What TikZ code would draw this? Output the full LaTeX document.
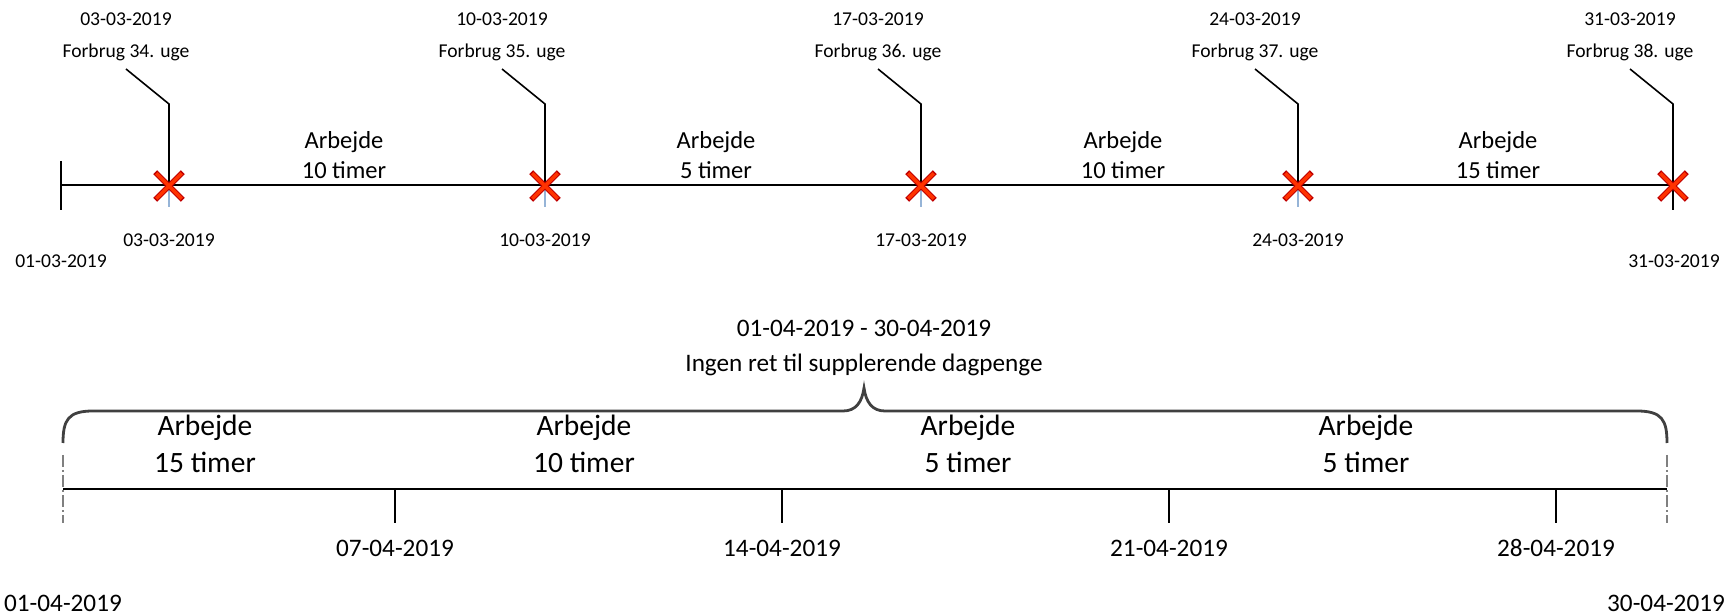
\documentclass[tikz,border=0pt]{standalone}
\usepackage{fontspec}
\setmainfont{Carlito}
\usetikzlibrary{shapes.misc}

\definecolor{markred}{RGB}{255,51,0}
\definecolor{markdark}{RGB}{192,0,0}
\definecolor{bracegray}{RGB}{64,64,64}
\definecolor{ticklight}{RGB}{150,180,215}

\begin{document}
\begin{tikzpicture}[x=0.5pt, y=-0.5pt,
	every node/.style={inner sep=0pt, align=center},
	smalltxt/.style={font=\fontsize{9.8}{16}\selectfont},
	worktxt/.style={font=\fontsize{12.25}{15}\selectfont},
	bigtxt/.style={font=\fontsize{14.75}{18.5}\selectfont},
	datetxt/.style={font=\fontsize{12.6}{17.5}\selectfont},
	xouter/.style={cross out, draw=markdark, line width=2.8pt, minimum size=11pt},
	xinner/.style={cross out, draw=markred, line width=1.7pt, minimum size=11pt},
	axis/.style={draw=black, line width=0.8pt},
	lightick/.style={draw=ticklight, line width=0.8pt},
	brace/.style={draw=bracegray, line width=1.4pt},
	endline/.style={draw=gray, line width=0.8pt, dash pattern=on 6pt off 1.5pt on 1pt off 1.5pt}]
			\useasboundingbox (0,0) rectangle (1724,614);
			
			% march timeline
			\coordinate (s0) at (61,185);
			\coordinate (s0t) at (61,161);
			\coordinate (s0b) at (61,210);
			\coordinate (m1) at (169,185);
			\coordinate (m2) at (545,185);
			\coordinate (m3) at (921,185);
			\coordinate (m4) at (1298,185);
			\coordinate (m5) at (1673,185);
			\coordinate (m5b) at (1673,210);
			
			\path[axis] (s0) edge (m5);
			\path[axis] (s0t) edge (s0b);
			
			\coordinate (k1) at (169,104);
			\coordinate (k2) at (545,104);
			\coordinate (k3) at (921,104);
			\coordinate (k4) at (1298,104);
			\coordinate (k5) at (1673,104);
			\coordinate (e1) at (126,69);
			\coordinate (e2) at (502,69);
			\coordinate (e3) at (878,69);
			\coordinate (e4) at (1255,69);
			\coordinate (e5) at (1630,69);
			
			\draw[axis] (e1) -- (k1) -- (m1);
			\draw[axis] (e2) -- (k2) -- (m2);
			\draw[axis] (e3) -- (k3) -- (m3);
			\draw[axis] (e4) -- (k4) -- (m4);
			\draw[axis] (e5) -- (k5) -- (m5b);
			
			\coordinate (u1) at (169,207);
			\coordinate (u2) at (545,207);
			\coordinate (u3) at (921,207);
			\coordinate (u4) at (1298,207);
			\path[lightick] (m1) edge (u1);
			\path[lightick] (m2) edge (u2);
			\path[lightick] (m3) edge (u3);
			\path[lightick] (m4) edge (u4);
			
			\node[xouter] (x1) at (169,186){};
			\node[xinner] at (x1){};
			\node[xouter] (x2) at (545,186){};
			\node[xinner] at (x2){};
			\node[xouter] (x3) at (921,186){};
			\node[xinner] at (x3){};
			\node[xouter] (x4) at (1298,186){};
			\node[xinner] at (x4){};
			\node[xouter] (x5) at (1673,186){};
			\node[xinner] at (x5){};
			
			\node[smalltxt] (f1) at (126,37){03-03-2019\\Forbrug 34. uge};
			\node[smalltxt] (f2) at (502,37){10-03-2019\\Forbrug 35. uge};
			\node[smalltxt] (f3) at (878,37){17-03-2019\\Forbrug 36. uge};
			\node[smalltxt] (f4) at (1255,37){24-03-2019\\Forbrug 37. uge};
			\node[smalltxt] (f5) at (1630,37){31-03-2019\\Forbrug 38. uge};
			
			\node[worktxt] (w1) at (344,155){Arbejde\\10 timer};
			\node[worktxt] (w2) at (716,155){Arbejde\\5 timer};
			\node[worktxt] (w3) at (1123,155){Arbejde\\10 timer};
			\node[worktxt] (w4) at (1498,155){Arbejde\\15 timer};
			
			\node[smalltxt] (d0) at (61,261){01-03-2019};
			\node[smalltxt] (d1) at (169,240){03-03-2019};
			\node[smalltxt] (d2) at (545,240){10-03-2019};
			\node[smalltxt] (d3) at (921,240){17-03-2019};
			\node[smalltxt] (d4) at (1298,240){24-03-2019};
			\node[smalltxt] (d5) at (1674,261){31-03-2019};
			
			% april timeline
			\coordinate (a0) at (63,489);
			\coordinate (a5) at (1667,489);
			\coordinate (a0t) at (63,455);
			\coordinate (a0b) at (63,523);
			\coordinate (a5t) at (1667,455);
			\coordinate (a5b) at (1667,523);
			\path[axis] (a0) edge (a5);
			\path[endline] (a0t) edge (a0b);
			\path[endline] (a5t) edge (a5b);
			
			\coordinate (t1) at (395,489);
			\coordinate (t2) at (782,489);
			\coordinate (t3) at (1169,489);
			\coordinate (t4) at (1556,489);
			\coordinate (t1b) at (395,523);
			\coordinate (t2b) at (782,523);
			\coordinate (t3b) at (1169,523);
			\coordinate (t4b) at (1556,523);
			\path[axis] (t1) edge (t1b);
			\path[axis] (t2) edge (t2b);
			\path[axis] (t3) edge (t3b);
			\path[axis] (t4) edge (t4b);
			
			\coordinate (b0) at (63,443);
			\coordinate (b1) at (1667,443);
			\coordinate (btip) at (864,388);
			\draw[brace] (b0) .. controls (63,420) and (68,411) .. (93,411) -- (843,411)
				.. controls (856,411) and (862,402) .. (btip)
				.. controls (866,402) and (872,411) .. (885,411) -- (1637,411)
				.. controls (1662,411) and (1667,420) .. (b1);
			
			\node[datetxt] (title) at (864,348){01-04-2019 - 30-04-2019\\Ingen ret til supplerende dagpenge};
			
			\node[bigtxt] (v1) at (205,444){Arbejde\\15 timer};
			\node[bigtxt] (v2) at (584,444){Arbejde\\10 timer};
			\node[bigtxt] (v3) at (968,444){Arbejde\\5 timer};
			\node[bigtxt] (v4) at (1366,444){Arbejde\\5 timer};
			
			\node[datetxt] (g0) at (63,603){01-04-2019};
			\node[datetxt] (g1) at (395,548){07-04-2019};
			\node[datetxt] (g2) at (782,548){14-04-2019};
			\node[datetxt] (g3) at (1169,548){21-04-2019};
			\node[datetxt] (g4) at (1556,548){28-04-2019};
			\node[datetxt] (g5) at (1666,603){30-04-2019};
			\end{tikzpicture}
\end{document}
